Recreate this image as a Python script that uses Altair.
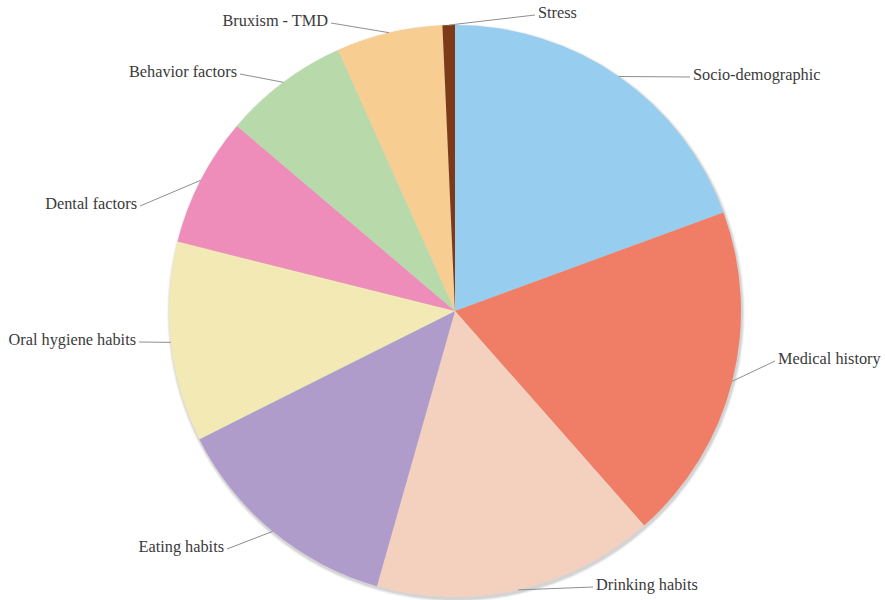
import math
import altair as alt
import pandas as pd

# ---- data ----
categories = ["Socio-demographic", "Medical history", "Drinking habits", "Eating habits",
              "Oral hygiene habits", "Dental factors", "Behavior factors", "Bruxism - TMD", "Stress"]
shares = [19.4, 19.1, 15.9, 13.2, 11.3, 7.3, 7.1, 6.0, 0.7]
colors = ["#97CDEE", "#F07E66", "#F3D1BE", "#B09CCA", "#F2E9B4", "#EE8DB9", "#B8DAAB", "#F8CD91", "#7C3A18"]

# ---- layout ----
W, H = 885, 600
CX, CY, R = 455, 311, 286
# label anchor offsets from the pie centre (dx, dy) and text alignment
label_offsets = [(235, -234), (320, 50), (138, 276), (-228, 238), (-316, 31),
                 (-315, -105), (-215, -237), (-124, -288), (80, -296)]
label_align = ["left", "left", "left", "right", "right", "right", "right", "right", "left"]

total = sum(shares)
rows, lines = [], []
cum = 0
for i, (c, v) in enumerate(zip(categories, shares)):
    mid = (cum + v / 2) / total * 2 * math.pi
    cum += v
    sx, sy = CX + R * math.sin(mid), CY - R * math.cos(mid)
    ex, ey = CX + label_offsets[i][0], CY + label_offsets[i][1]
    gap = 3 if label_align[i] == "left" else -3
    rows.append({"cat": c, "share": v, "idx": i, "tx": ex + gap, "ty": ey - 2, "align": label_align[i]})
    lines.append({"cat": c, "x": sx, "y": sy, "o": 0})
    lines.append({"cat": c, "x": ex, "y": ey, "o": 1})

df = pd.DataFrame(rows)
ldf = pd.DataFrame(lines)

xs = alt.Scale(domain=[0, W], range=[0, W])
ys = alt.Scale(domain=[0, H], range=[0, H])
theta = alt.Theta("share:Q", stack=True)
order = alt.Order("idx:Q")

base = alt.Chart(df)

shadows = [
    base.mark_arc(outerRadius=R + d, color="#000000", opacity=op).encode(
        theta=theta, order=order, x=alt.value(CX + 1), y=alt.value(CY + 2))
    for d, op in [(3, 0.04), (2, 0.06), (1, 0.08)]
]

pie = base.mark_arc(outerRadius=R).encode(
    theta=theta,
    order=order,
    color=alt.Color("cat:N", scale=alt.Scale(domain=categories, range=colors), legend=None),
    x=alt.value(CX), y=alt.value(CY),
)

leaders = alt.Chart(ldf).mark_line(color="#8E8E8E", strokeWidth=1).encode(
    x=alt.X("x:Q", scale=xs, axis=None),
    y=alt.Y("y:Q", scale=ys, axis=None),
    detail="cat:N",
    order="o:Q",
)

FS = 16.3
text_left = alt.Chart(df[df["align"] == "left"]).mark_text(
    align="left", baseline="middle", font="Liberation Serif", fontSize=FS, color="#3A3A3A"
).encode(x=alt.X("tx:Q", scale=xs, axis=None), y=alt.Y("ty:Q", scale=ys, axis=None), text="cat:N")

text_right = alt.Chart(df[df["align"] == "right"]).mark_text(
    align="right", baseline="middle", font="Liberation Serif", fontSize=FS, color="#3A3A3A"
).encode(x=alt.X("tx:Q", scale=xs, axis=None), y=alt.Y("ty:Q", scale=ys, axis=None), text="cat:N")

chart = alt.layer(*shadows, pie, leaders, text_left, text_right).properties(
    width=W, height=H, autosize=alt.AutoSizeParams(type="none"), padding=0, background="white"
).configure_view(stroke=None)

chart.save("out.html", embed_options={"renderer": "svg", "actions": False})
